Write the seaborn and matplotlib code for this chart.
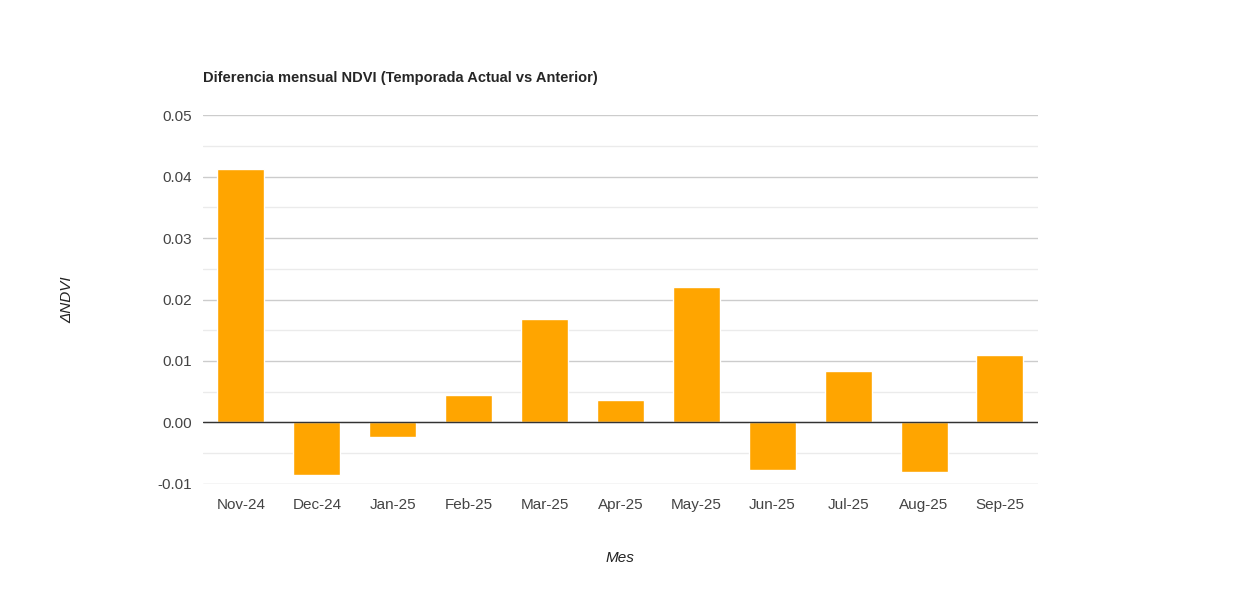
import seaborn as sns
import matplotlib.pyplot as plt
import pandas as pd

months = ["Nov-24", "Dec-24", "Jan-25", "Feb-25", "Mar-25", "Apr-25",
          "May-25", "Jun-25", "Jul-25", "Aug-25", "Sep-25"]
delta_ndvi = [0.0412, -0.0086, -0.0023, 0.0044, 0.0169, 0.0037,
              0.0221, -0.0078, 0.0083, -0.0081, 0.0109]

df = pd.DataFrame({"Mes": months, "dNDVI": delta_ndvi})

sns.set_style("white")
plt.rcParams["font.family"] = ["Arial", "Liberation Sans", "DejaVu Sans"]

fig = plt.figure(figsize=(12.4, 5.99), dpi=100)
ax = fig.add_axes([0.1637, 0.192, 0.8370 - 0.1637, 0.808 - 0.192])

sns.barplot(data=df, x="Mes", y="dNDVI", color="#ffa500", saturation=1,
            width=0.62, ax=ax, zorder=3)

ax.set_ylim(-0.01, 0.05)
ax.set_yticks([-0.01, 0, 0.01, 0.02, 0.03, 0.04, 0.05])
ax.set_yticklabels(["-0.01", "0.00", "0.01", "0.02", "0.03", "0.04", "0.05"])
ax.set_yticks([-0.005 + 0.01 * i for i in range(6)], minor=True)
ax.grid(axis="y", which="major", color="#cccccc", lw=1, zorder=0)
ax.grid(axis="y", which="minor", color="#ebebeb", lw=1, zorder=0)
ax.axhline(0, color="#333333", lw=1, zorder=4)
for s in ax.spines.values():
    s.set_visible(False)
ax.tick_params(axis="both", length=0, labelsize=11, colors="#444444", pad=8)
ax.tick_params(axis="x", pad=10)

ax.set_xlabel("Mes", fontsize=11, style="italic", color="#222222", labelpad=28)
ax.set_ylabel("ΔNDVI", fontsize=11, style="italic", color="#222222", labelpad=60)
ax.set_title("Diferencia mensual NDVI (Temporada Actual vs Anterior)",
             loc="left", fontsize=10.5, fontweight="bold", pad=24)

fig.savefig("out.png", dpi=100)
